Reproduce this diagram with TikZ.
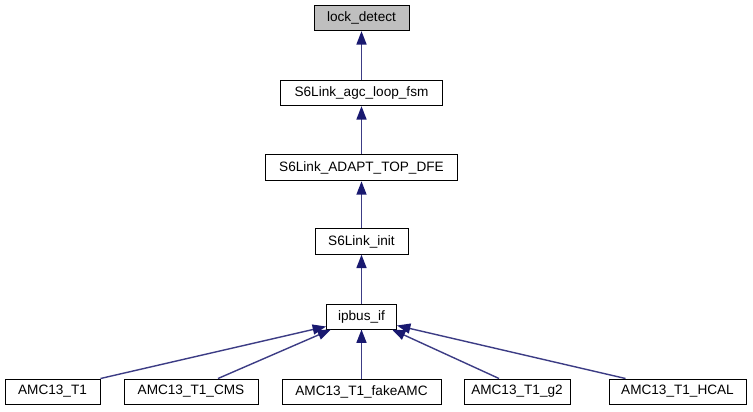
\documentclass[tikz,border=0pt]{standalone}
\usepackage{fontspec}
\setmainfont{Liberation Sans}
\usetikzlibrary{arrows.meta,calc}
\definecolor{edgeblue}{HTML}{191970}
\definecolor{rootgray}{HTML}{BFBFBF}
\begin{document}
\begin{tikzpicture}[x=0.75pt,y=-0.75pt,
  cls/.style={draw=black,line width=0.75pt,fill=white,inner sep=0pt,
    minimum height=19pt,font=\fontsize{10.2pt}{12pt}\selectfont},
  edge/.style={draw=edgeblue!85,line width=1.05pt,
    {Triangle[length=10pt,width=7.5pt,color=edgeblue,fill=edgeblue]}-}]
\path[use as bounding box,fill=white] (0,0) rectangle (753,411);
\node[cls,fill=rootgray,minimum width=71.25pt] (ld) at (361.5,18) {lock\_detect};
\node[cls,minimum width=121.5pt] (agc) at (361.5,93) {S6Link\_agc\_loop\_fsm};
\node[cls,minimum width=144pt,minimum height=20pt] (dfe) at (361.5,167.5) {S6Link\_ADAPT\_TOP\_DFE};
\node[cls,minimum width=69.75pt] (init) at (361.5,241.5) {S6Link\_init};
\node[cls,minimum width=52.5pt,minimum height=18.75pt] (ip) at (361.5,316.5) {ipbus\_if};
\node[cls,minimum width=71.25pt,minimum height=18.75pt] (t1) at (52.5,391.5) {AMC13\_T1};
\node[cls,minimum width=100.5pt,minimum height=18.75pt] (cms) at (191,391.5) {AMC13\_T1\_CMS};
\node[cls,minimum width=119.25pt,minimum height=18.75pt] (fake) at (361.5,391.5) {AMC13\_T1\_fakeAMC};
\node[cls,minimum width=79.5pt,minimum height=18.75pt] (g2) at (517,391.5) {AMC13\_T1\_g2};
\node[cls,minimum width=102.75pt,minimum height=18.75pt] (hcal) at (677.5,391.5) {AMC13\_T1\_HCAL};
\draw[edge] (ld.south) -- (agc.north);
\draw[edge] (agc.south) -- (dfe.north);
\draw[edge] (dfe.south) -- (init.north);
\draw[edge] (init.south) -- (ip.north);
\draw[edge] ($(ip.south west)+(0,-3)$) -- (t1.north east);
\draw[edge] ($(ip.south west)+(5,0)$) -- ($(cms.north)+(27,0)$);
\draw[edge] (ip.south) -- (fake.north);
\draw[edge] ($(ip.south east)+(-5,0)$) -- ($(g2.north)+(-18,0)$);
\draw[edge] ($(ip.south east)+(0,-4)$) -- ($(hcal.north west)+(17,0)$);
\end{tikzpicture}
\end{document}
